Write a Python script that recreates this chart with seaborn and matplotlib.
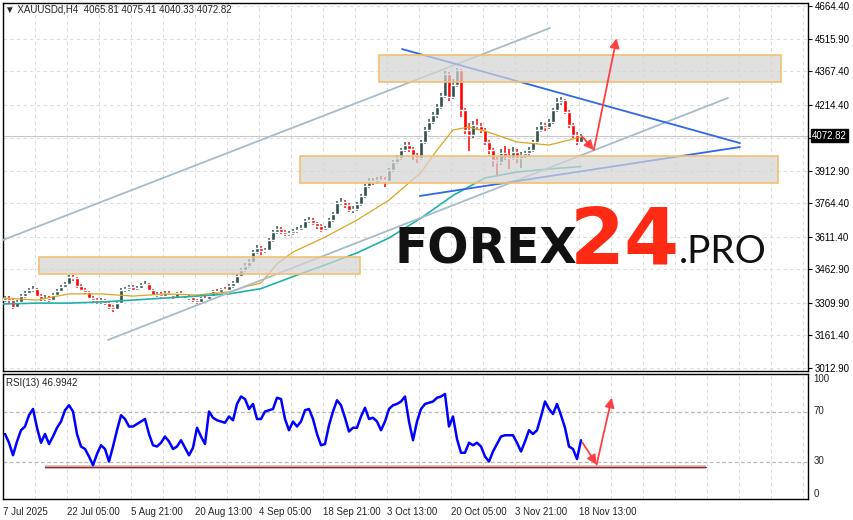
import numpy as np
import pandas as pd
import seaborn as sns
import matplotlib.pyplot as plt
from matplotlib.patches import Rectangle

# ---- data (one candle per 4 H4 bars) ----
first_open = 3325
closes = [
    3332, 3323, 3291, 3314, 3341, 3355, 3369, 3373, 3341, 3328,
    3332, 3323, 3346, 3364, 3383, 3396, 3428, 3424, 3387, 3369,
    3360, 3332, 3323, 3314, 3323, 3309, 3291, 3282, 3309, 3369,
    3373, 3383, 3369, 3378, 3392, 3396, 3369, 3346, 3351, 3341,
    3355, 3346, 3337, 3355, 3346, 3332, 3337, 3323, 3314, 3332,
    3328, 3341, 3364, 3360, 3373, 3369, 3387, 3401, 3433, 3460,
    3478, 3497, 3542, 3560, 3547, 3551, 3597, 3633, 3647, 3633,
    3624, 3629, 3638, 3643, 3652, 3684, 3688, 3674, 3661, 3643,
    3652, 3688, 3716, 3766, 3770, 3757, 3734, 3738, 3761, 3798,
    3843, 3866, 3861, 3871, 3868, 3866, 3916, 3953, 3971, 4007,
    4030, 4012, 3985, 3971, 4044, 4101, 4135, 4167, 4204, 4254,
    4354, 4249, 4304, 4372, 4190, 4101, 4076, 4122, 4117, 4101,
    4044, 4007, 3962, 3953, 3994, 3980, 3971, 3998, 3971, 3985,
    3994, 4007, 4044, 4101, 4122, 4112, 4135, 4190, 4227, 4236,
    4181, 4122, 4076, 4044, 4073,
]
highs = [
    3340, 3341, 3328, 3322, 3350, 3366, 3378, 3385, 3380, 3350,
    3344, 3341, 3355, 3372, 3391, 3405, 3438, 3439, 3430, 3395,
    3378, 3366, 3340, 3331, 3332, 3330, 3315, 3300, 3318, 3376,
    3384, 3392, 3390, 3387, 3401, 3409, 3402, 3375, 3360, 3358,
    3362, 3362, 3352, 3361, 3362, 3352, 3345, 3343, 3329, 3338,
    3340, 3347, 3370, 3372, 3380, 3382, 3394, 3410, 3441, 3470,
    3490, 3510, 3550, 3574, 3568, 3562, 3606, 3644, 3659, 3655,
    3642, 3640, 3648, 3655, 3664, 3694, 3700, 3695, 3680, 3668,
    3662, 3696, 3726, 3776, 3790, 3780, 3764, 3750, 3770, 3808,
    3852, 3878, 3880, 3886, 3888, 3884, 3926, 3962, 3984, 4018,
    4046, 4044, 4020, 3992, 4055, 4112, 4148, 4180, 4218, 4268,
    4370, 4365, 4330, 4381, 4378, 4200, 4130, 4140, 4150, 4130,
    4110, 4055, 4015, 3975, 4010, 4025, 4010, 4020, 4010, 4000,
    4005, 4020, 4055, 4112, 4135, 4130, 4148, 4200, 4245, 4250,
    4240, 4190, 4130, 4088, 4080,
]
lows = [
    3312, 3308, 3284, 3286, 3308, 3334, 3349, 3360, 3335, 3320,
    3320, 3315, 3318, 3340, 3358, 3377, 3390, 3412, 3380, 3362,
    3352, 3326, 3315, 3306, 3305, 3300, 3282, 3268, 3276, 3303,
    3360, 3366, 3362, 3362, 3372, 3385, 3362, 3340, 3339, 3334,
    3335, 3340, 3330, 3332, 3340, 3326, 3325, 3316, 3306, 3309,
    3321, 3322, 3336, 3352, 3354, 3362, 3363, 3380, 3396, 3426,
    3452, 3470, 3490, 3533, 3530, 3538, 3545, 3590, 3625, 3624,
    3615, 3616, 3620, 3630, 3636, 3646, 3676, 3665, 3648, 3634,
    3636, 3646, 3680, 3710, 3756, 3745, 3725, 3722, 3730, 3754,
    3790, 3836, 3850, 3852, 3858, 3840, 3860, 3908, 3944, 3962,
    3998, 3998, 3960, 3948, 3962, 4035, 4090, 4125, 4155, 4196,
    4245, 4230, 4240, 4295, 4160, 4080, 4004, 4060, 4100, 4085,
    4030, 3990, 3930, 3890, 3940, 3960, 3920, 3960, 3950, 3925,
    3970, 3980, 3998, 4036, 4090, 4095, 4105, 4125, 4180, 4212,
    4170, 4110, 4062, 4030, 4040,
]
rsi = [
    52, 45, 35, 46, 55, 58, 67, 72, 57, 45,
    52, 44, 50, 57, 62, 71, 75, 70, 52, 42,
    40, 34, 27, 36, 43, 40, 30, 42, 55, 67,
    64, 58, 58, 60, 62, 64, 52, 43, 42, 45,
    50, 46, 40, 42, 47, 41, 35, 41, 57, 50,
    44, 70, 65, 63, 62, 61, 66, 63, 76, 82,
    80, 72, 76, 64, 64, 70, 71, 72, 81, 80,
    64, 55, 62, 58, 62, 71, 72, 64, 52, 43,
    44, 59, 70, 79, 75, 65, 54, 57, 57, 66,
    73, 64, 65, 62, 55, 62, 72, 75, 76, 78,
    82, 62, 47, 62, 72, 76, 77, 78, 81, 82,
    84, 58, 66, 48, 37, 37, 45, 43, 45, 42,
    34, 30, 38, 44, 50, 51, 51, 51, 45, 38,
    46, 55, 52, 55, 66, 78, 72, 68, 76, 67,
    57, 42, 40, 32, 47,
]

ma_fast_idx = [-0.5, 8, 16, 24, 32, 40, 48, 56, 60, 64, 68, 72, 80, 88, 96, 104, 108, 112, 116, 120, 128, 136, 144]
ma_fast = [3332, 3323, 3351, 3351, 3341, 3351, 3346, 3360, 3383, 3401, 3488, 3542, 3610, 3688, 3779, 3905, 4007, 4099, 4112, 4094, 4044, 4030, 4067]
ma_slow_idx = [-0.5, 8, 16, 24, 32, 40, 48, 56, 64, 72, 80, 88, 96, 104, 112, 120, 128, 136, 144]
ma_slow = [3305, 3309, 3309, 3314, 3323, 3332, 3341, 3351, 3375, 3430, 3483, 3538, 3606, 3697, 3800, 3880, 3907, 3921, 3932]

date_labels = ["7 Jul 2025", "22 Jul 05:00", "5 Aug 21:00", "20 Aug 13:00", "4 Sep 05:00",
               "18 Sep 21:00", "3 Oct 13:00", "20 Oct 05:00", "3 Nov 21:00", "18 Nov 13:00"]
price_ticks = [4664.40, 4515.90, 4367.40, 4214.40, 4063.65, 3912.90, 3764.40,
               3611.40, 3462.90, 3309.90, 3161.40, 3012.90]
last_price = 4072.82

# zones: (start idx, end idx, low, high)
zones = [(8.5, 88.75, 3442, 3519), (73.75, 193.25, 3857, 3980), (93.5, 194.0, 4318, 4441)]
# trend lines: (idx0, price0, idx1, price1)
channel_lines = [(-0.5, 3597, 136.25, 4564), (25.75, 3141, 180.75, 4245)]
triangle_lines = [(99.25, 4468, 183.75, 4039), (103.75, 3798, 183.75, 4021)]
arrow_pts = [(144.2, 4071), (147.2, 4007), (152.9, 4517)]
rsi_support = (10.0, 25.8, 175.2, 25.8)
rsi_arrow_pts = [(144.4, 45), (147.9, 27.5), (151.7, 81)]

sns.set_style("white")
plt.rcParams["font.family"] = ["Liberation Sans", "DejaVu Sans"]

df = pd.DataFrame({"idx": np.arange(len(closes)), "close": closes,
                   "high": highs, "low": lows, "rsi": rsi})
df["open"] = [first_open] + closes[:-1]
df["body"] = df["close"] - df["open"]
df["body"] = df["body"].where(df["body"].abs() >= 3, 3)
up_col, dn_col = "#2F4F4F", "#FF0000"
colors = np.where(df["close"] >= df["open"], up_col, dn_col)

fig = plt.figure(figsize=(8.54, 5.2), dpi=100)
ax = fig.add_axes([3 / 854, 1 - 371 / 520, 805 / 854, 368 / 520])
ax_rsi = fig.add_axes([3 / 854, 1 - 499 / 520, 805 / 854, 125 / 520], sharex=ax)

xmin, xmax = -0.5, 200.75
grid_kw = dict(color="#dcdcdc", lw=0.8, dashes=(3, 3), zorder=0)

# --- main panel ---
for gx in np.arange(xmin, xmax, 8):
    ax.axvline(gx, **grid_kw)
    ax_rsi.axvline(gx, **grid_kw)
for p in price_ticks:
    ax.axhline(p, **grid_kw)

ax.axhline(last_price, color="#c8c8c8", lw=0.8, zorder=1)

ax.vlines(df["idx"], df["low"], df["high"], colors=colors, lw=1.1, zorder=3)
ax.bar(df["idx"], df["body"], bottom=df["open"], width=0.9, color=colors, zorder=3)

sns.lineplot(x=ma_fast_idx, y=ma_fast, ax=ax, color="#DAA520", lw=0.9, zorder=4)
sns.lineplot(x=ma_slow_idx, y=ma_slow, ax=ax, color="#20B2AA", lw=1.2, zorder=4)

for x0, y0, x1, y1 in channel_lines:
    ax.plot([x0, x1], [y0, y1], color="#a7bccb", lw=1.3, zorder=5)
for x0, y0, x1, y1 in triangle_lines:
    ax.plot([x0, x1], [y0, y1], color="#2f68e8", lw=1.3, zorder=5)

for x0, x1, lo, hi in zones:
    ax.add_patch(Rectangle((x0, lo), x1 - x0, hi - lo, facecolor="#d4d4d4", alpha=0.7,
                           edgecolor="none", zorder=6))
    ax.add_patch(Rectangle((x0, lo), x1 - x0, hi - lo, facecolor="none",
                           edgecolor="#f2c06e", lw=1.2, zorder=7))

arrow_kw = dict(arrowstyle="-|>", color="#ff4040", lw=1.3, mutation_scale=14, shrinkA=0, shrinkB=0)
for a, b in zip(arrow_pts[:-1], arrow_pts[1:]):
    ax.annotate("", xy=b, xytext=a, arrowprops=arrow_kw, zorder=8)

ax.set_xlim(xmin, xmax)
ax.set_ylim(2999.3, 4678.1)
ax.yaxis.tick_right()
ax.set_yticks(price_ticks)
ax.set_yticklabels(["" if abs(p - 4063.65) < 1 else f"{p:.2f}" for p in price_ticks])
ax.tick_params(axis="y", direction="out", length=3, labelsize=7, pad=2, colors="black")
ax.tick_params(axis="x", length=0, labelbottom=False)
for s in ax.spines.values():
    s.set_color("black")
    s.set_linewidth(1)

ax.annotate(f"{last_price:.2f}", xy=(1.0, last_price), xycoords=("axes fraction", "data"),
            xytext=(3, 0), textcoords="offset points", va="center", ha="left",
            fontsize=7, color="white",
            bbox=dict(boxstyle="square,pad=0.15", fc="black", ec="black"))

fig.text(5 / 854, 1 - 10 / 520, "\u25bc XAUUSDd,H4  4065.81 4075.41 4040.33 4072.82",
         fontsize=7, va="center", ha="left", family=["Liberation Sans", "DejaVu Sans"])

# logo
fig.text(395 / 854, 1 - 263 / 520, "FOREX", fontsize=35, fontweight="bold",
         family="DejaVu Sans", color="#111111", va="baseline", ha="left", zorder=10)
fig.text(570 / 854, 1 - 263 / 520, "24", fontsize=57, fontweight="bold",
         family="DejaVu Sans", color="#ff2a14", va="baseline", ha="left", zorder=10)
fig.text(679 / 854, 1 - 263 / 520, ".PRO", fontsize=28, fontweight="normal",
         family="Lato", color="#111111", va="baseline", ha="left", zorder=10)

# --- RSI panel ---
for lvl in (70, 30):
    ax_rsi.axhline(lvl, color="#b8b8b8", lw=0.9, dashes=(3, 2), zorder=1)
sns.lineplot(data=df, x="idx", y="rsi", ax=ax_rsi, color="#0000ff", lw=1.8, zorder=4)

sx0, sy0, sx1, sy1 = rsi_support
ax_rsi.plot([sx0, sx1], [sy0, sy1], color="#d8b8b8", lw=2.6, zorder=3, solid_capstyle="butt")
ax_rsi.plot([sx0, sx1], [sy0, sy1], color="#8b2a2a", lw=0.9, zorder=3)
for a, b in zip(rsi_arrow_pts[:-1], rsi_arrow_pts[1:]):
    ax_rsi.annotate("", xy=b, xytext=a, arrowprops=arrow_kw, zorder=8)

ax_rsi.set_ylim(0, 100)
ax_rsi.yaxis.tick_right()
ax_rsi.set_yticks([0, 30, 70, 100])
ax_rsi.set_yticklabels(["0", "30", "70", "100"])
for lab, v in zip(ax_rsi.get_yticklabels(), ["bottom", "center", "center", "top"]):
    lab.set_va(v)
ax_rsi.tick_params(axis="y", direction="out", length=0, labelsize=7, pad=4)
ax_rsi.set_ylabel("")
ax_rsi.set_xlabel("")
ax.set_ylabel("")
ax.set_xlabel("")

xt = np.arange(len(date_labels)) * 16 + xmin
ax_rsi.set_xticks(xt)
ax_rsi.set_xticklabels(date_labels, ha="left")
ax_rsi.tick_params(axis="x", direction="out", length=3, labelsize=7, pad=3)
ax_rsi.set_xlim(xmin, xmax)
for s in ax_rsi.spines.values():
    s.set_color("black")
    s.set_linewidth(1)

ax_rsi.text(0.004, 0.93, "RSI(13) 46.9942", transform=ax_rsi.transAxes,
            fontsize=7, va="center", ha="left")

fig.savefig("out.png", dpi=100)
